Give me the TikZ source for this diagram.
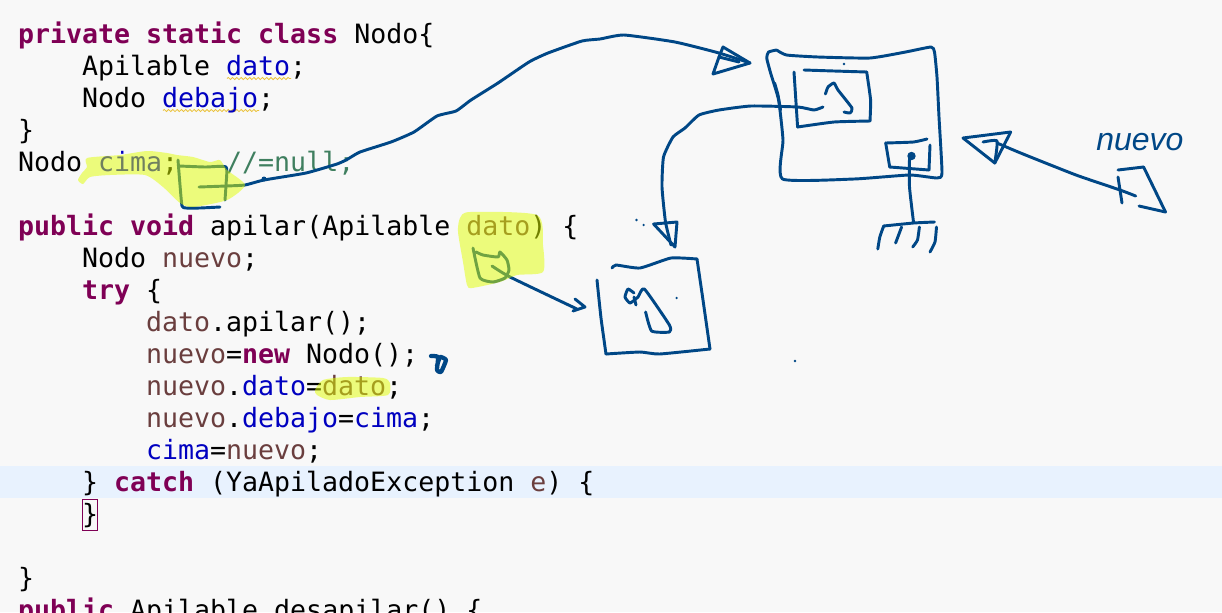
\documentclass[tikz,border=0pt]{standalone}
\usepackage{fontspec}
\setmainfont{DejaVu Sans Mono}
\newfontfamily\handfont{Liberation Sans}
\usetikzlibrary{decorations.pathmorphing}
\definecolor{bgc}{HTML}{F8F8F8}
\definecolor{bandc}{HTML}{E8F2FE}
\definecolor{kwc}{HTML}{7F0055}
\definecolor{fldc}{HTML}{0000C0}
\definecolor{varc}{HTML}{6A3E3E}
\definecolor{cmtc}{HTML}{3F7F5F}
\definecolor{inkc}{HTML}{004786}
\definecolor{hlc}{RGB}{225,255,0}
\definecolor{wavec}{HTML}{EBC23A}
\newcommand{\kw}[1]{\textcolor{kwc}{\textbf{#1}}}
\newcommand{\fld}[1]{\textcolor{fldc}{#1}}
\newcommand{\lv}[1]{\textcolor{varc}{#1}}
\newcommand{\cmt}[1]{\textcolor{cmtc}{#1}}
\newcommand{\inkline}[2][]{\draw[inkstroke,#1] plot[smooth,tension=.3] coordinates {#2};}
\newcommand{\hlblob}[1]{\fill[hlblobstyle] plot[smooth cycle,tension=.4] coordinates {#1};}
\tikzset{
  code/.style={anchor=base west,inner sep=0pt,outer sep=0pt,font=\fontsize{19.95}{24}\selectfont,text=black},
  inkstroke/.style={draw=inkc,line width=2.2pt,line cap=round,line join=round},
  hlblobstyle/.style={fill=hlc,fill opacity=.5},
  wavy/.style={draw=wavec,line width=.6pt,decorate,decoration={snake,segment length=3.2pt,amplitude=.8pt}},
}
\begin{document}
\begin{tikzpicture}[x=.75pt,y=-.75pt]
\useasboundingbox (0,0) rectangle (1222,612);
\clip (0,0) rectangle (1222,612);
\fill[bgc] (0,0) rectangle (1222,612);
\fill[bandc] (0,466) rectangle (1222,498);
\draw[kwc,line width=.75pt] (82.5,499.5) rectangle (97.5,530.5);
% wavy underlines
\draw[wavy] (227,78.5) -- (291,78.5);
\draw[wavy] (163,110.5) -- (259,110.5);
% code
\node[code] (l0) at (18,43) {\kw{private static class} Nodo\{};
\node[code] (l1) at (82,75) {Apilable \fld{dato};};
\node[code] (l2) at (82,107) {Nodo \fld{debajo};};
\node[code] (l3) at (18,139) {\}};
\node[code] (l4) at (18,171) {Nodo \fld{cima};~~~\cmt{//=null;}};
\node[code] (l6) at (18,235) {\kw{public void} apilar(Apilable \lv{dato}) \{};
\node[code] (l7) at (82,267) {Nodo \lv{nuevo};};
\node[code] (l8) at (82,299) {\kw{try} \{};
\node[code] (l9) at (146,331) {\lv{dato}.apilar();};
\node[code] (l10) at (146,363) {\lv{nuevo}=\kw{new} Nodo();};
\node[code] (l11) at (146,395) {\lv{nuevo}.\fld{dato}=\lv{dato};};
\node[code] (l12) at (146,427) {\lv{nuevo}.\fld{debajo}=\fld{cima};};
\node[code] (l13) at (146,459) {\fld{cima}=\lv{nuevo};};
\node[code] (l14) at (82,491) {\} \kw{catch} (YaApiladoException \lv{e}) \{};
\node[code] (l15) at (82,523) {\}};
\node[code] (l17) at (18,587) {\}};
\node[code] (l18) at (18,619) {\kw{public} Apilable desapilar() \{};
% ink under highlight: cima box and dato leaf
\inkline{(178,160) (180,185) (182,206) (186,208) (200,208) (220,207)}
\inkline{(179,166) (205,167) (226,167) (226,185) (225,200)}
\inkline{(199,187) (226,186) (245,185) (264,180) (306,173) (337,164) (347,159.5) (360,152) (391,142) (414,132) (437,116) (456,111) (471,100) (498,83) (529,62) (548,53) (582,41) (600,39) (624,35) (675,42) (719,53) (750,63)}
\inkline{(473,248) (480,278) (493,282) (505,278) (509,270) (507,260) (500,252) (498,257) (483,255) (476,252)}
\inkline{(492,266) (510,277) (577,309)}
% highlights
\hlblob{(87,158) (120,155) (147,151) (167,153) (177,155) (193,157) (210,162) (220,160) (227,170) (245,185) (227,200) (193,207) (180,203) (163,187) (145,175) (110,175) (90,177) (83,184) (78,180) (82,173) (87,167)}
\hlblob{(460,218) (470,212) (537,215) (543,245) (543,272) (517,275) (500,282) (472,288) (467,285) (463,262) (458,232)}
\hlblob{(317,395) (315,390) (323,380) (347,377) (383,378) (390,383) (388,395) (360,397) (330,400)}
% top arrow head
\draw[inkstroke] (723,47) -- (750,63) -- (713,74) -- (719,57) -- cycle;
\inkline{(719,57) (739,62)}
\fill[inkc] (264,179) circle (2.5);
% dato arrow head
\draw[inkstroke] (575,299) -- (585,307) -- (573,311);
% large node box
\inkline{(776.6,50) (786.5,55) (818,57) (870,58) (905.6,52) (931,47) (934.5,52) (937,77) (939,117) (942,173) (937,178) (909.5,175) (854,179) (782.5,179) (783,140) (778.6,100) (770.6,73) (766.7,58) (768.6,52) (776.6,50)}
\inkline{(774.6,83) (778,95) (780.5,110)}
% inner box one
\inkline{(794,72) (797.6,127)}
\inkline{(797.6,127) (834,122) (870,121)}
\inkline{(870,121) (870.6,100) (866.7,72)}
\inkline{(866.7,72) (834,71) (804,70)}
\inkline{(825.4,94) (828,87) (834,83) (838,90) (852,108) (850,113) (844,112)}
% connector to the lower box
\inkline{(823,107) (814,110) (798,107) (751,106) (719,110) (699,115) (685,128) (673,137) (663.5,157) (662,187) (665.5,222) (671,245)}
\draw[inkstroke] (653.6,224) -- (677,222) -- (675,247) -- cycle;
% inner box two
\inkline{(927,139) (913.5,142) (885.7,143)}
\inkline{(885.7,143) (889.7,167)}
\inkline{(889.7,167) (929,170)}
\inkline{(929,170) (930,145)}
\fill[inkc] (911.5,156) circle (4.2);
\inkline{(909.5,157) (909.5,187) (913.5,222)}
% ground
\inkline{(877.8,249) (879.8,237) (883.7,226)}
\inkline{(883.7,226) (913.5,223) (934.5,222)}
\inkline{(901.6,227) (895.6,243)}
\inkline{(919.4,227) (917.5,240) (912.7,247)}
\inkline{(936.5,227) (935,242) (930,252)}
% nuevo variable
\draw[inkstroke] (963,138) -- (1010.7,132) -- (994.8,163) -- cycle;
\inkline{(983,142) (997,141) (994.8,163)}
\inkline{(997,143) (1020.6,153) (1076,175) (1120,190) (1135.7,196)}
\inkline{(1118,170) (1143.6,167)}
\inkline{(1143.6,167) (1165.5,212)}
\inkline{(1165.5,212) (1139,206)}
\inkline{(1118,177) (1122,203)}
\node[anchor=base west,inner sep=0pt,text=inkc,font=\handfont\itshape\fontsize{24}{28}\selectfont] (nuevolabel) at (1096,150) {nuevo};
% lower box
\inkline{(597,280) (601,318) (606,354)}
\inkline{(606,354) (640,352) (659.5,354) (710,349)}
\inkline{(710,349) (703,300) (697,259)}
\inkline{(697,259) (671,258) (640,268) (616,265) (612,268)}
\inkline{(634,293) (628,289) (625,297) (630,303) (638,297) (644.4,289) (669.4,325) (669.4,332) (651.6,331) (645.6,312)}
\inkline{(634,297) (636,305)}
% stray dots
\foreach \p in {(636.5,220),(643.6,225),(676.6,298),(844,64),(795,361)} \fill[inkc] \p circle (1.3);
% scribble
\inkline[line width=3.2pt]{(431,356) (438,357) (437,370) (441,372) (446,360) (440,357) (437,366)}
\end{tikzpicture}
\end{document}
